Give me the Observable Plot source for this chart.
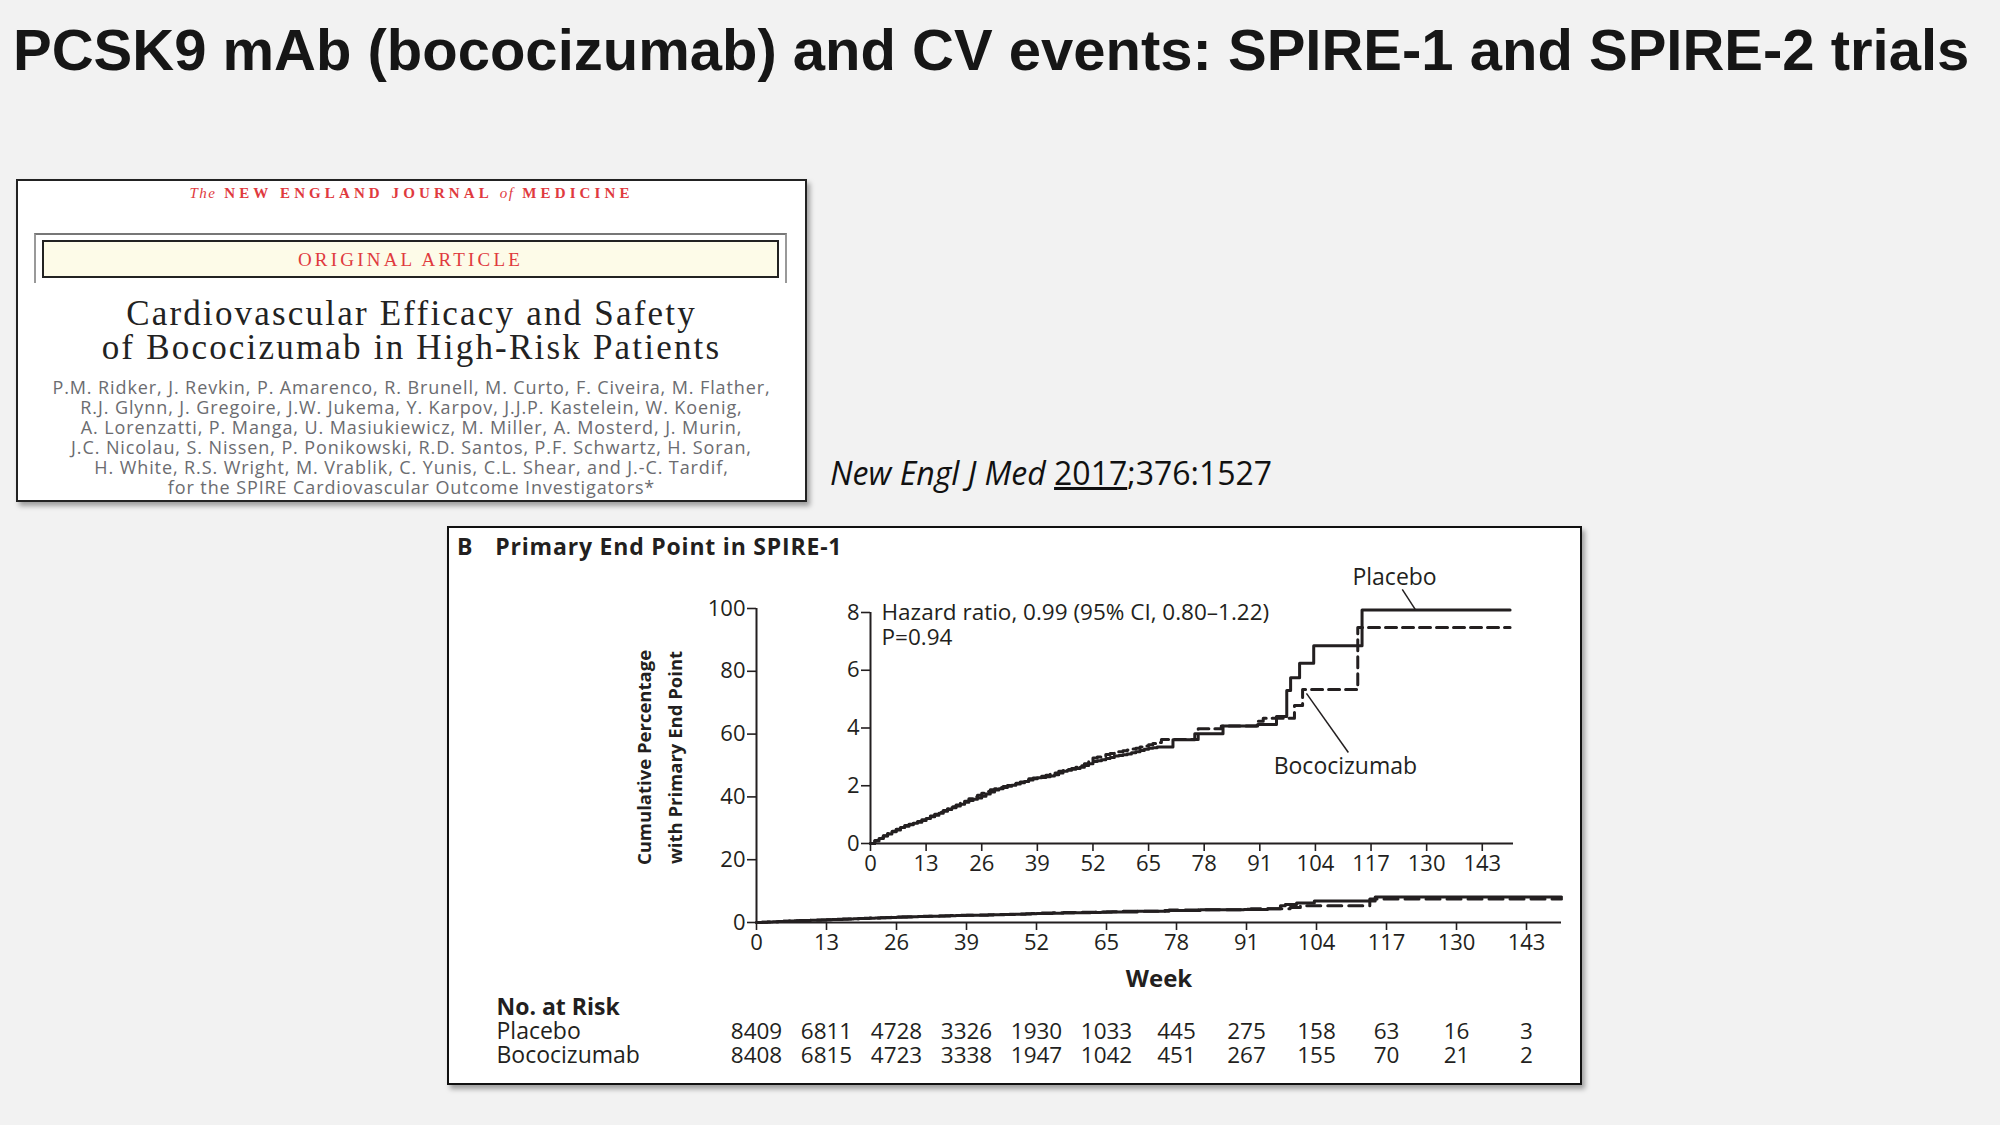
<!DOCTYPE html>
<html>
<head>
<meta charset="utf-8">
<script src="https://cdn.jsdelivr.net/npm/d3@7"></script>
<script src="https://cdn.jsdelivr.net/npm/@observablehq/plot@0.6"></script>
<style>
html,body{margin:0;padding:0;background:#f2f2f2;}
body{width:2000px;height:1125px;position:relative;overflow:hidden;font-family:"Open Sans",sans-serif;}
.abs{position:absolute;}
#title{left:13px;top:10px;font-family:"Liberation Sans",Arial,sans-serif;font-weight:700;font-size:58px;color:#161616;white-space:nowrap;line-height:80px;}
#nejm{left:16px;top:179px;width:787px;height:319px;background:#fff;border:2px solid #222;box-shadow:3px 4px 5px rgba(0,0,0,0.35);}
.mast{position:absolute;left:0;width:100%;top:4px;text-align:center;color:#e03a3e;font-family:"Liberation Serif",serif;font-weight:700;font-size:15px;letter-spacing:4.1px;}
.mast i{font-weight:400;letter-spacing:1.5px;}
.oframe{position:absolute;left:16px;top:52px;width:749px;height:48px;border-top:2px solid #777;border-left:2px solid #999;border-right:2px solid #999;}
.ibox{position:absolute;left:24px;top:59px;width:733px;height:34px;border:2px solid #222;background:#fdfbe8;color:#e03a3e;text-align:center;font-family:"Liberation Serif",serif;font-size:19px;letter-spacing:3.2px;line-height:35px;}
.ntitle{position:absolute;left:0;width:100%;top:116px;text-align:center;font-family:"Liberation Serif",serif;font-size:35px;line-height:34px;color:#222;letter-spacing:2.2px;white-space:nowrap;}
.auth{position:absolute;left:0;width:100%;top:196px;text-align:center;font-family:"Open Sans",sans-serif;font-size:18px;line-height:20px;color:#6b6c70;letter-spacing:0.9px;white-space:nowrap;}
#cite{left:830px;top:451px;font-family:"Open Sans",sans-serif;font-size:32px;color:#111;white-space:nowrap;}
#box{left:447px;top:526px;width:1131px;height:555px;background:#fff;border:2px solid #111;box-shadow:3px 4px 5px rgba(0,0,0,0.35);}
#hdr{left:457px;top:530px;font-family:"Open Sans",sans-serif;font-weight:700;font-size:23px;color:#231f20;white-space:nowrap;letter-spacing:0.8px;}
#hdr span{margin-left:22px;}
svg{overflow:visible;}
</style>
</head>
<body>
<div id="title" class="abs">PCSK9 mAb (bococizumab) and CV events: SPIRE-1 and SPIRE-2 trials</div>

<div id="nejm" class="abs">
  <div class="mast"><i>The</i> NEW ENGLAND JOURNAL <i>of</i> MEDICINE</div>
  <div class="oframe"></div>
  <div class="ibox">ORIGINAL ARTICLE</div>
  <div class="ntitle">Cardiovascular Efficacy and Safety<br>of Bococizumab in High-Risk Patients</div>
  <div class="auth">P.M. Ridker, J. Revkin, P. Amarenco, R. Brunell, M. Curto, F. Civeira, M. Flather,<br>R.J. Glynn, J. Gregoire, J.W. Jukema, Y. Karpov, J.J.P. Kastelein, W. Koenig,<br>A. Lorenzatti, P. Manga, U. Masiukiewicz, M. Miller, A. Mosterd, J. Murin,<br>J.C. Nicolau, S. Nissen, P. Ponikowski, R.D. Santos, P.F. Schwartz, H. Soran,<br>H. White, R.S. Wright, M. Vrablik, C. Yunis, C.L. Shear, and J.-C. Tardif,<br>for the SPIRE Cardiovascular Outcome Investigators*</div>
</div>

<div id="cite" class="abs"><i>New Engl J Med</i> <u>2017</u>;376:1527</div>

<div id="box" class="abs"></div>
<div id="hdr" class="abs">B<span>Primary End Point in SPIRE-1</span></div>

<div id="mainplot" class="abs" style="left:449px;top:560px;"></div>
<div id="insetplot" class="abs" style="left:820px;top:555px;"></div>
<div id="riskplot" class="abs" style="left:449px;top:990px;"></div>

<script>
// ---------- data ----------
const weekTicks = [0, 13, 26, 39, 52, 65, 78, 91, 104, 117, 130, 143];
const mainYTicks = [0, 20, 40, 60, 80, 100];
const insetYTicks = [0, 2, 4, 6, 8];

// Kaplan-Meier cumulative incidence (%)
const placeboWeeks = [0,1,2,3,4,5,6,7,8,9,10,11,12,13,14,15,16,17,18,19,20,21,22,23,24,25,26,27,28,29,30,31,32,33,34,35,36,37,38,39,40,41,42,43,44,45,46,47,48,49,50,51,52,53,54,55,56,57,58,59,60,61,62,63,64,65,66,67,70.7,75.8,82.4,90.5,94.9,97.3,98.2,100.3,103.6,114.9,149.5];
const placeboPct = [0,0.09,0.17,0.26,0.33,0.41,0.47,0.55,0.6,0.65,0.7,0.74,0.8,0.87,0.93,0.98,1.05,1.12,1.18,1.24,1.3,1.36,1.43,1.49,1.53,1.58,1.64,1.71,1.78,1.85,1.9,1.94,1.98,2.02,2.06,2.1,2.15,2.2,2.24,2.28,2.29,2.31,2.34,2.38,2.44,2.5,2.54,2.57,2.6,2.64,2.7,2.76,2.84,2.87,2.9,2.94,2.98,3.03,3.05,3.07,3.1,3.14,3.18,3.22,3.26,3.3,3.32,3.34,3.59,3.8,4.07,4.12,4.4,5.3,5.74,6.24,6.85,8.09,8.09];

const bocoWeeks = [0,1,2,3,4,5,6,7,8,9,10,11,12,13,14,15,16,17,18,19,20,21,22,23,24,25,26,27,28,29,30,31,32,33,34,35,36,37,38,39,40,41,42,43,44,45,46,47,48,49,50,51,52,53,54,55,56,57,58,59,60,61,62,63,64,65,66,67,68,76.6,82,90.2,91.8,99.1,101,113.9,149.5];
const bocoPct = [0,0.1,0.19,0.27,0.35,0.42,0.49,0.56,0.62,0.67,0.71,0.76,0.82,0.88,0.95,1.01,1.08,1.14,1.2,1.27,1.33,1.4,1.46,1.55,1.62,1.67,1.74,1.8,1.86,1.9,1.94,1.97,2.01,2.05,2.09,2.13,2.19,2.24,2.27,2.3,2.33,2.36,2.4,2.44,2.5,2.53,2.56,2.6,2.64,2.69,2.76,2.86,2.96,3.0,3.04,3.08,3.12,3.15,3.18,3.21,3.24,3.27,3.3,3.34,3.38,3.42,3.46,3.5,3.6,3.97,4.07,4.23,4.34,4.78,5.33,7.48,7.48];

// Number at risk
const riskGroups = ["Placebo", "Bococizumab"];
const riskPlacebo = [8409, 6811, 4728, 3326, 1930, 1033, 445, 275, 158, 63, 16, 3];
const riskBoco    = [8408, 6815, 4723, 3338, 1947, 1042, 451, 267, 155, 70, 21, 2];

// ---------- tables built from the arrays ----------
const placebo = placeboWeeks.map((w, i) => ({week: w, pct: placeboPct[i]}));
const boco = bocoWeeks.map((w, i) => ({week: w, pct: bocoPct[i]}));
const risk = [
  ...weekTicks.map((w, i) => ({week: w, group: "Placebo", n: riskPlacebo[i]})),
  ...weekTicks.map((w, i) => ({week: w, group: "Bococizumab", n: riskBoco[i]}))
];

// annotation positions (inset data coordinates)
const annPlacebo = {label: "Placebo", x: 122.5, y: 9.2, lx1: 124.3, ly1: 8.8, lx2: 127.4, ly2: 8.09};
const annBoco = {label: "Bococizumab", x: 111.0, y: 2.67, lx1: 111.7, ly1: 3.15, lx2: 101.9, ly2: 5.2};

const F = "'Open Sans', sans-serif";
const INK = "#231f20";
const TICKFS = 22;

// ---------- main chart ----------
const main = Plot.plot({
  width: 1131, height: 440,
  marginLeft: 307, marginRight: 19, marginTop: 48, marginBottom: 78,
  style: {background: "transparent", fontFamily: F, fontSize: TICKFS + "px", color: INK, overflow: "visible"},
  x: {domain: [0, 149.5]},
  y: {domain: [0, 100]},
  marks: [
    Plot.axisX({ticks: weekTicks, tickSize: 8, tickPadding: 4, label: null, fontSize: TICKFS, strokeWidth: 1.6}),
    Plot.axisY({ticks: mainYTicks, tickSize: 9, tickPadding: 2, label: null, fontSize: TICKFS, strokeWidth: 1.6}),
    Plot.ruleY([0], {stroke: INK, strokeWidth: 2}),
    Plot.ruleX([0], {stroke: INK, strokeWidth: 2}),
    Plot.line(boco, {x: "week", y: "pct", curve: "step-after", stroke: INK, strokeWidth: 3, strokeDasharray: "14,7"}),
    Plot.line(placebo, {x: "week", y: "pct", curve: "step-after", stroke: INK, strokeWidth: 3}),
    Plot.text(["Week"], {frameAnchor: "bottom", dy: 64, fontWeight: "bold", fontSize: 24, fill: INK}),
    Plot.text(["Cumulative Percentage\nwith Primary End Point"], {frameAnchor: "left", textAnchor: "middle", lineAnchor: "middle", rotate: -90, dx: -100, dy: -8, fontSize: 18.5, fontWeight: "bold", lineHeight: 1.65, fill: INK})
  ]
});
document.getElementById("mainplot").appendChild(main);

// ---------- inset ----------
const inset = Plot.plot({
  width: 720, height: 335,
  marginLeft: 50, marginRight: 27, marginTop: 57, marginBottom: 47,
  style: {background: "transparent", fontFamily: F, fontSize: TICKFS + "px", color: INK, overflow: "visible"},
  x: {domain: [0, 150.3]},
  y: {domain: [0, 8]},
  marks: [
    Plot.axisX({ticks: weekTicks, tickSize: 8, tickPadding: 4, label: null, fontSize: TICKFS, strokeWidth: 1.6}),
    Plot.axisY({ticks: insetYTicks, tickSize: 9, tickPadding: 2, label: null, fontSize: TICKFS, strokeWidth: 1.6}),
    Plot.ruleY([0], {stroke: INK, strokeWidth: 2}),
    Plot.ruleX([0], {stroke: INK, strokeWidth: 2}),
    Plot.line(boco, {x: "week", y: "pct", curve: "step-after", stroke: INK, strokeWidth: 3, strokeDasharray: "11,6"}),
    Plot.line(placebo, {x: "week", y: "pct", curve: "step-after", stroke: INK, strokeWidth: 3}),
    Plot.text(["Hazard ratio, 0.99 (95% CI, 0.80\u20131.22)"], {frameAnchor: "top-left", textAnchor: "start", lineAnchor: "middle", dx: 11, dy: 0, fontSize: 22.5, fill: INK}),
    Plot.text(["P=0.94"], {frameAnchor: "top-left", textAnchor: "start", lineAnchor: "middle", dx: 11, dy: 25, fontSize: 22.5, fill: INK}),
    Plot.link([annPlacebo, annBoco], {x1: "lx1", y1: "ly1", x2: "lx2", y2: "ly2", stroke: INK, strokeWidth: 1.5}),
    Plot.text([annPlacebo, annBoco], {x: "x", y: "y", text: "label", fontSize: 23, fill: INK})
  ]
});
document.getElementById("insetplot").appendChild(inset);

// ---------- number at risk ----------
const riskPlot = Plot.plot({
  width: 1131, height: 80,
  marginLeft: 307, marginRight: 19, marginTop: 0, marginBottom: 0,
  style: {background: "transparent", fontFamily: F, fontSize: "22px", color: INK, overflow: "visible"},
  x: {domain: [0, 149.5], axis: null},
  y: {type: "point", domain: ["No. at Risk", ...riskGroups], range: [16, 65], padding: 0, axis: null},
  marks: [
    Plot.text(risk, {x: "week", y: "group", text: d => String(d.n), fontSize: 22.5, fill: INK}),
    Plot.text(riskGroups, {y: d => d, text: d => d, frameAnchor: "left", textAnchor: "start", dx: -260, fontSize: 23, fill: INK}),
    Plot.text(["No. at Risk"], {y: d => d, text: d => d, frameAnchor: "left", textAnchor: "start", dx: -260, fontSize: 23, fontWeight: "bold", fill: INK})
  ]
});
document.getElementById("riskplot").appendChild(riskPlot);
</script>
</body>
</html>
